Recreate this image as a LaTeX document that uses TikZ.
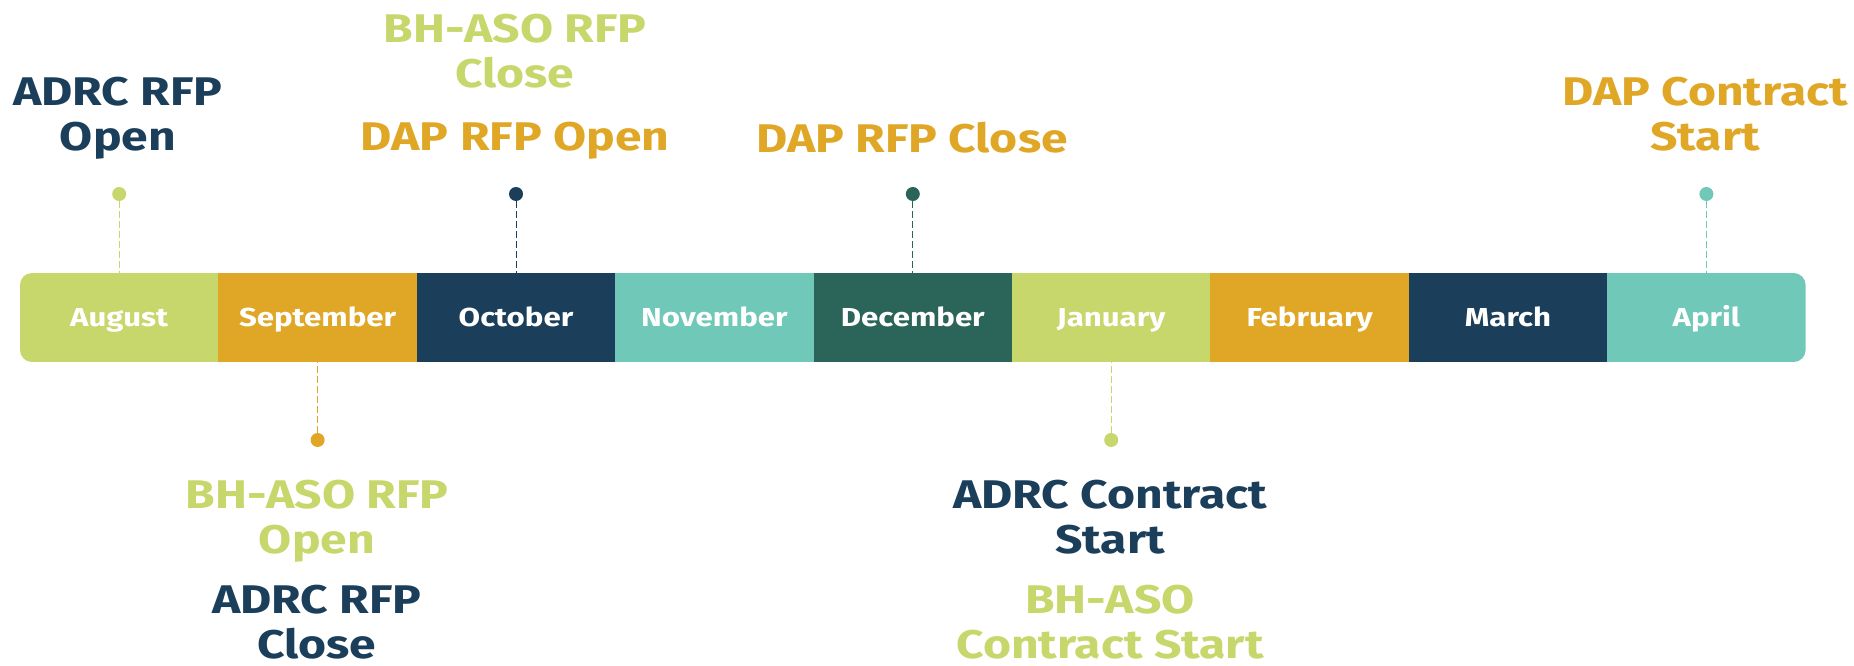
\documentclass[tikz,border=0pt]{standalone}
\usepackage{fontspec}
\setmainfont{Fira Sans}[FakeStretch=1.2]
\usetikzlibrary{positioning}
\definecolor{tlLime}{HTML}{C7D76B}
\definecolor{tlGold}{HTML}{E0A727}
\definecolor{tlNavy}{HTML}{1B3F5A}
\definecolor{tlTeal}{HTML}{70C8B8}
\definecolor{tlPine}{HTML}{2B6459}
\tikzset{
	month/.style={fill=#1, draw=none, minimum width=198.4pt, minimum height=89pt, inner sep=0,
		text=white, text height=18pt, text depth=0pt, font=\bfseries\fontsize{26}{26}\selectfont},
	eventdot/.style={circle, fill=#1, inner sep=0, minimum size=14pt},
	eventstem/.style={draw=#1, dash pattern=on 7pt off 3pt, line width=1pt},
	eventlabel/.style={text=#1, align=center, anchor=north, inner sep=0,
		font=\bfseries\fontsize{40}{45}\selectfont},
}
\begin{document}
\begin{tikzpicture}[x=1pt,y=-1pt]
	\useasboundingbox (0,0) rectangle (1854,666);
	% the bar of months
	\begin{scope}
		\clip [rounded corners=12pt] (20,273) rectangle (1805.6,362);
		\foreach \n/\m/\c [count=\i from 0] in {aug/August/tlLime, sep/September/tlGold,
				oct/October/tlNavy, nov/November/tlTeal, dec/December/tlPine, jan/January/tlLime,
				feb/February/tlGold, mar/March/tlNavy, apr/April/tlTeal} {
			\node [month=\c] (\n) at (119.2+198.4*\i, 317.5) {\m};
		}
	\end{scope}

	% dots above and below
	\node [eventdot=tlLime] (augdot) at (aug.center |- 0,194) {};
	\node [eventdot=tlNavy] (octdot) at (oct.center |- 0,194) {};
	\node [eventdot=tlPine] (decdot) at (dec.center |- 0,194) {};
	\node [eventdot=tlTeal] (aprdot) at (apr.center |- 0,194) {};
	\node [eventdot=tlGold] (sepdot) at (sep.center |- 0,440) {};
	\node [eventdot=tlLime] (jandot) at (jan.center |- 0,440) {};
	\draw [eventstem=tlLime] (augdot) -- (aug.north);
	\draw [eventstem=tlNavy] (octdot) -- (oct.north);
	\draw [eventstem=tlPine] (decdot) -- (dec.north);
	\draw [eventstem=tlTeal] (aprdot) -- (apr.north);
	\draw [eventstem=tlGold] (sepdot) -- (sep.south);
	\draw [eventstem=tlLime] (jandot) -- (jan.south);

	% labels
	\node [eventlabel=tlNavy] (adrcopen) at (118,77) {ADRC RFP\\Open};
	\node [eventlabel=tlLime] (bhclose) at (515,14) {BH-ASO RFP\\Close};
	\node [eventlabel=tlGold] (dapopen) at (515,122) {DAP RFP Open};
	\node [eventlabel=tlGold] (dapclose) at (912,122) {DAP RFP Close};
	\node [eventlabel=tlGold] (dapstart) at (1705,77) {DAP Contract\\Start};
	\node [eventlabel=tlLime] (bhopen) at (317,480) {BH-ASO RFP\\Open};
	\node [eventlabel=tlNavy] (adrcclose) at (317,585) {ADRC RFP\\Close};
	\node [eventlabel=tlNavy] (adrcstart) at (1110,480) {ADRC Contract\\Start};
	\node [eventlabel=tlLime] (bhstart) at (1110,585) {BH-ASO\\Contract Start};
\end{tikzpicture}
\end{document}
